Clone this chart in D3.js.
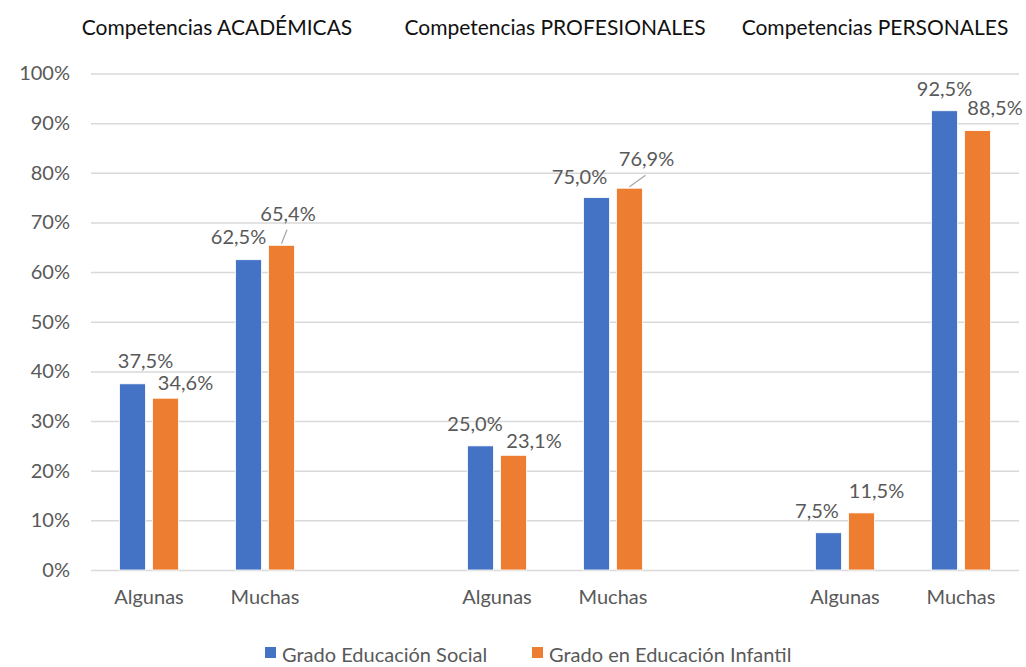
<!DOCTYPE html>
<html>
<head>
<meta charset="utf-8">
<script src="https://cdn.jsdelivr.net/npm/d3@7"></script>
<style>
  html, body { margin: 0; padding: 0; background: #fff; }
  svg { display: block; font-family: Lato, "Open Sans", sans-serif; }
</style>
</head>
<body>
<svg id="chart" width="1026" height="667"></svg>
<script>
// Competence groups and the two answer levels inside each
const groups = ["Competencias ACADÉMICAS", "Competencias PROFESIONALES", "Competencias PERSONALES"];
const levels = ["Algunas", "Muchas"];
const seriesNames = ["Grado Educación Social", "Grado en Educación Infantil"];

// Percentages, in order: group × level
const socialValues   = [37.5, 62.5, 25.0, 75.0, 7.5, 92.5];
const infantilValues = [34.6, 65.4, 23.1, 76.9, 11.5, 88.5];

const yTickValues = [0, 10, 20, 30, 40, 50, 60, 70, 80, 90, 100];

// ---- layout ----
const colors = ["#4472C4", "#ED7D31"];
const textColor = "#595959";
const plot = { left: 91, right: 1019, top: 73.5, bottom: 570 };
const fontSize = "20px";

// label nudges [dx, dy from bar top] so neighbouring labels don't collide
const labelNudge = [
  [[13, -16], [-10, -16], [-5.5, -15], [-17, -14], [-11.5, -15], [0, -15]],
  [[20, -8], [6.5, -24.6], [20.5, -7], [17, -22], [15, -15], [17.5, -15.6]]
];
const leaderLines = [[1, 1], [1, 3]]; // [series, index] pairs drawn with a leader line
const titleCenters = [217, 555, 875];

const svg = d3.select("#chart");

// 8 slots: two levels per group with an empty slot between groups
const slotIndex = (g, l) => g * 3 + l;
const slots = d3.range(groups.length * 3 - 1);

const x0 = d3.scaleBand().domain(slots).range([plot.left, plot.right]).padding(0);
const x1 = d3.scaleBand().domain([0, 1])
  .range([28.5, x0.bandwidth() - 28.5]).paddingInner(0.2121).paddingOuter(0);
const y = d3.scaleLinear().domain([0, 100]).range([plot.bottom, plot.top]);

// gridlines
const yAxis = d3.axisLeft(y).tickValues(yTickValues)
  .tickSize(-(plot.right - plot.left)).tickFormat(d => d + "%").tickPadding(21);
const gy = svg.append("g").attr("transform", `translate(${plot.left},0)`).call(yAxis);
gy.select(".domain").remove();
gy.selectAll(".tick line").attr("stroke", "#D9D9D9").attr("stroke-width", 1.5);
gy.selectAll(".tick text").attr("fill", textColor).style("font-size", fontSize)
  .attr("font-family", "Lato, sans-serif");

// rows for bars
const rows = [];
groups.forEach((g, gi) => levels.forEach((lv, li) => {
  const i = gi * 2 + li;
  [socialValues[i], infantilValues[i]].forEach((v, si) => {
    rows.push({ gi, li, i, si, v, slot: slotIndex(gi, li) });
  });
}));

svg.append("g").selectAll("rect").data(rows).join("rect")
  .attr("x", d => x0(d.slot) + x1(d.si))
  .attr("width", x1.bandwidth())
  .attr("y", d => y(d.v))
  .attr("height", d => y(0) - y(d.v))
  .attr("fill", d => colors[d.si])
  .attr("stroke", "#fff").attr("stroke-width", 0.8);

// value labels
const fmt = v => v.toFixed(1).replace(".", ",") + "%";
const cx = d => x0(d.slot) + x1(d.si) + x1.bandwidth() / 2;
svg.append("g").selectAll("text").data(rows).join("text")
  .attr("x", d => cx(d) + labelNudge[d.si][d.i][0])
  .attr("y", d => y(d.v) + labelNudge[d.si][d.i][1])
  .attr("text-anchor", "middle")
  .attr("fill", textColor).style("font-size", fontSize)
  .text(d => fmt(d.v));

// leader lines for shifted labels
svg.append("g").selectAll("line")
  .data(rows.filter(d => leaderLines.some(([s, i]) => s === d.si && i === d.i)))
  .join("line")
  .attr("x1", d => cx(d)).attr("y1", d => y(d.v) - 1.5)
  .attr("x2", d => cx(d) + labelNudge[d.si][d.i][0] - 1)
  .attr("y2", d => y(d.v) + labelNudge[d.si][d.i][1] + 9)
  .attr("stroke", "#A6A6A6").attr("stroke-width", 1.2);

// category labels
svg.append("g").selectAll("text").data(rows.filter(d => d.si === 0)).join("text")
  .attr("x", d => x0(d.slot) + x0.bandwidth() / 2)
  .attr("y", 604)
  .attr("text-anchor", "middle").attr("fill", textColor).style("font-size", fontSize)
  .text(d => levels[d.li]);

// group titles
svg.append("g").selectAll("text").data(groups).join("text")
  .attr("x", (d, i) => titleCenters[i]).attr("y", 35)
  .attr("text-anchor", "middle").attr("fill", "#111").style("font-size", "21px")
  .text(d => d);

// legend
const legendX = [265, 532];
const lg = svg.append("g").selectAll("g").data(seriesNames).join("g")
  .attr("transform", (d, i) => `translate(${legendX[i]},0)`);
lg.append("rect").attr("x", 0).attr("y", 647).attr("width", 11).attr("height", 11)
  .attr("fill", (d, i) => colors[i]);
lg.append("text").attr("x", 17).attr("y", 662).attr("fill", textColor)
  .style("font-size", fontSize).text(d => d);
</script>
</body>
</html>
